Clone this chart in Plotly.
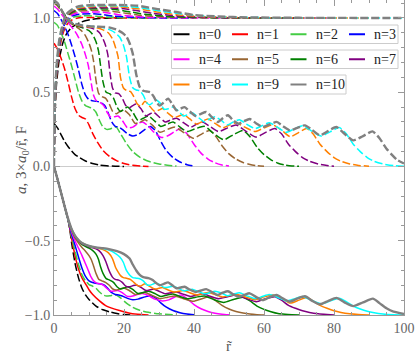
import plotly.graph_objects as go

N_LABELS = ["n=0", "n=1", "n=2", "n=3", "n=4", "n=5", "n=6", "n=7", "n=8", "n=9", "n=10"]
COLORS = ["#000000", "#FF0000", "#44CC44", "#0000FF", "#FF00FF", "#996633",
          "#008000", "#800080", "#FF8000", "#00FFFF", "#808080"]

# a(r)  (dashed, upper family)
A0 = [(0,0.29),(1,0.26),(2,0.215),(3,0.17),(4,0.135),(5,0.105),(6,0.08),(7.3,0.06),(9,0.037),(11,0.02),(13,0.01),(15,0.005),(17.5,0.002),(20,0.0)]
A1 = [(0,0.83),(1,0.79),(2,0.73),(3,0.66),(4,0.57),(5,0.47),(6,0.39),(7,0.345),(8,0.33),(9,0.32),(10,0.28),(11,0.225),(12.5,0.16),(14,0.108),(16,0.065),(18,0.038),(20,0.02),(22.5,0.008),(25,0.003),(27,0.0)]
A2 = [(0,0.97),(1,0.95),(2,0.9),(3,0.84),(4,0.76),(5,0.68),(6,0.59),(7,0.5),(8,0.44),(9,0.41),(10,0.4),(11,0.39),(12,0.365),(13,0.31),(14,0.265),(15,0.25),(16,0.252),(17,0.262),(17.8,0.265),(19,0.22),(20.7,0.155),(22.5,0.1),(24.5,0.063),(27,0.035),(30,0.017),(33,0.007),(35,0.003)]
A3 = [(0,1.05),(1,1.03),(2,0.99),(3,0.945),(4,0.89),(5,0.82),(6,0.74),(7,0.65),(8,0.55),(9,0.48),(10,0.45),(11.5,0.44),(13,0.435),(14.5,0.41),(15.5,0.36),(16.5,0.3),(17.5,0.27),(18.5,0.265),(19.5,0.25),(21,0.22),(22.5,0.205),(24,0.215),(26,0.25),(27.5,0.27),(29,0.24),(30.5,0.17),(32,0.11),(34,0.06),(36,0.03),(38,0.012),(40,0.003)]
A4 = [(0,1.08),(1,1.06),(2,1.03),(3,1.0),(4,0.97),(5,0.94),(6,0.91),(7,0.87),(8,0.82),(9,0.75),(9.8,0.68),(10.5,0.58),(11.3,0.48),(12.2,0.44),(13.2,0.43),(14.2,0.41),(15.3,0.36),(16.3,0.33),(17.3,0.335),(18.3,0.34),(19.5,0.31),(21,0.26),(22.5,0.265),(24,0.29),(25.3,0.3),(27,0.27),(29,0.22),(30.8,0.195),(32.8,0.21),(34.8,0.24),(36.4,0.255),(38,0.22),(40,0.15),(42,0.09),(44,0.05),(46,0.025),(48,0.01),(50,0.003)]
A5 = [(0,1.1),(1,1.08),(2,1.05),(3,1.015),(4,0.985),(5,0.96),(6,0.945),(7,0.93),(8,0.91),(9,0.88),(10,0.83),(10.7,0.78),(11.3,0.71),(12,0.58),(12.8,0.49),(13.7,0.47),(14.7,0.46),(15.8,0.42),(16.8,0.37),(17.8,0.355),(18.8,0.37),(20,0.38),(21.5,0.35),(23.2,0.29),(24.7,0.3),(26,0.315),(28,0.28),(30.3,0.23),(32.5,0.25),(34.5,0.265),(37,0.23),(39.8,0.19),(42.3,0.22),(44.5,0.243),(46.3,0.2),(48,0.14),(50,0.085),(52,0.05),(54,0.027),(56,0.013),(58,0.005),(60,0.001)]
A6 = [(0,1.11),(1,1.09),(2,1.055),(3,1.02),(4,0.99),(5,0.97),(6,0.95),(8,0.935),(10,0.915),(11,0.89),(12,0.84),(12.7,0.78),(13.3,0.68),(14,0.57),(14.9,0.5),(15.9,0.49),(17,0.46),(18,0.4),(19,0.37),(20,0.385),(21,0.4),(22.5,0.365),(24,0.31),(25.5,0.325),(27,0.34),(28.8,0.305),(30.5,0.27),(32.3,0.285),(34,0.3),(36,0.265),(38,0.235),(40.5,0.255),(43,0.27),(45.5,0.225),(48.5,0.18),(51.3,0.215),(54,0.243),(56,0.2),(58,0.13),(60,0.08),(62,0.045),(64,0.022),(66,0.01),(68,0.004),(70,0.001)]
A7 = [(0,1.115),(1,1.095),(2,1.06),(3,1.02),(4,0.99),(5,0.97),(6,0.955),(8,0.94),(10,0.935),(12,0.92),(13,0.9),(14,0.86),(14.8,0.81),(15.4,0.75),(16,0.63),(16.7,0.53),(17.5,0.495),(18.5,0.49),(19.5,0.46),(20.5,0.41),(21.5,0.395),(22.5,0.41),(23.5,0.42),(24.8,0.39),(26.3,0.34),(27.5,0.355),(28.5,0.365),(30,0.335),(31.8,0.3),(33.5,0.315),(35,0.325),(37,0.295),(39,0.265),(40.8,0.285),(42.5,0.3),(44.8,0.265),(47,0.235),(49.6,0.26),(52,0.28),(55,0.235),(57.8,0.198),(60.5,0.23),(63.1,0.255),(65,0.22),(67,0.15),(69,0.1),(71,0.06),(73,0.035),(75.5,0.017),(78,0.007),(80,0.002)]
A8 = [(0,1.12),(1,1.1),(2,1.06),(3,1.02),(4,0.99),(5,0.97),(6,0.955),(8,0.945),(10,0.94),(12,0.935),(14,0.92),(15.5,0.9),(16.7,0.86),(17.6,0.8),(18.3,0.74),(19,0.6),(19.8,0.53),(20.8,0.51),(21.8,0.505),(22.8,0.47),(23.8,0.42),(24.8,0.405),(26,0.44),(27.2,0.41),(28.8,0.37),(30,0.38),(31,0.39),(32.5,0.36),(34.2,0.33),(35.7,0.34),(37,0.35),(38.8,0.32),(40.8,0.285),(42.5,0.305),(44,0.32),(46,0.29),(48.2,0.26),(50.2,0.28),(52,0.295),(54.5,0.265),(57.5,0.235),(60,0.26),(62.5,0.28),(65,0.245),(67.5,0.2),(70,0.23),(72.2,0.255),(74,0.22),(76,0.15),(78,0.1),(80,0.06),(82,0.035),(84.5,0.017),(87,0.007),(90,0.002)]
A9 = [(0,1.12),(1,1.1),(2,1.06),(3,1.02),(4,0.99),(5,0.97),(6,0.96),(8,0.95),(10,0.945),(12,0.94),(14,0.935),(16,0.92),(17.5,0.9),(18.8,0.87),(19.8,0.82),(20.7,0.74),(21.6,0.6),(22.5,0.53),(23.5,0.515),(24.5,0.51),(25.5,0.48),(26.5,0.43),(27.3,0.415),(28.2,0.43),(29,0.45),(30.2,0.43),(31.5,0.385),(32.8,0.39),(34,0.4),(35.5,0.375),(37,0.34),(38.3,0.35),(39.5,0.362),(41,0.335),(43,0.3),(44.5,0.32),(46,0.335),(47.8,0.31),(49.5,0.28),(51.3,0.3),(53,0.315),(55,0.285),(57.5,0.255),(59.5,0.275),(61.5,0.295),(63.8,0.265),(66.3,0.23),(68.8,0.255),(71,0.275),(73.5,0.24),(76.3,0.205),(79,0.235),(81.5,0.262),(83.5,0.22),(85.5,0.15),(87.5,0.1),(89.5,0.06),(91.5,0.035),(94,0.017),(97,0.006),(100,0.002)]
A10 = [(0,1.12),(1,1.1),(2,1.06),(3,1.02),(4,0.99),(5,0.97),(6,0.96),(8,0.95),(10,0.945),(12,0.942),(14,0.94),(16,0.935),(18,0.92),(19.5,0.9),(20.7,0.874),(21.6,0.83),(22.5,0.76),(23.5,0.62),(24.5,0.535),(25.5,0.51),(26.5,0.505),(27.5,0.5),(28.5,0.47),(29.4,0.43),(30.2,0.41),(31.3,0.43),(32.6,0.457),(33.8,0.42),(35,0.378),(36.2,0.39),(37.3,0.4),(38.8,0.37),(40.5,0.34),(42,0.355),(43.5,0.367),(45.2,0.33),(46.8,0.3),(48.2,0.325),(49.7,0.345),(51.2,0.31),(52.7,0.288),(54.3,0.305),(55.9,0.32),(57.8,0.29),(59.7,0.266),(61.6,0.283),(63.6,0.3),(65.5,0.27),(67.4,0.243),(69.5,0.26),(71.7,0.277),(73.8,0.245),(76,0.21),(78.4,0.24),(80.7,0.266),(83,0.22),(85.5,0.176),(88.3,0.205),(91,0.236),(93,0.19),(95,0.12),(96.5,0.08),(98,0.045),(100,0.02)]

# 3*a0/r  (dashed, near 1)
P0 = [(0,0.0),(0.3,0.35),(0.7,0.55),(1.5,0.72),(2.5,0.83),(3.5,0.89),(5,0.935),(6,0.952),(7.5,0.97),(9.2,0.983),(11,0.991),(13,0.996),(16,0.999),(20,1.0)]
P1 = [(0,0.0),(0.3,0.4),(0.7,0.6),(1.5,0.78),(2.5,0.89),(3.5,0.95),(5,0.985),(6.5,0.998),(8,1.003),(10,1.004),(13,1.003),(17,1.001),(22,1.0),(27,1.0)]
P2 = [(0,0.0),(0.3,0.42),(0.7,0.62),(1.5,0.8),(2.5,0.91),(3.5,0.97),(5,1.0),(6,1.008),(8,1.014),(10,1.015),(12,1.012),(15,1.006),(20,1.002),(25,1.0),(35,1.0)]
P3 = [(0,0.0),(0.3,0.43),(0.7,0.63),(1.5,0.81),(2.5,0.92),(3.5,0.98),(5,1.012),(6.5,1.022),(8,1.027),(11,1.028),(14,1.022),(17,1.013),(21,1.006),(26,1.002),(32,1.0),(40,1.0)]
P4 = [(0,0.0),(0.3,0.44),(0.7,0.64),(1.5,0.82),(2.5,0.93),(3.5,0.99),(5,1.02),(6.5,1.033),(8,1.039),(11,1.041),(13,1.04),(16,1.032),(19,1.02),(23,1.01),(28,1.004),(35,1.001),(50,1.0)]
P5 = [(0,0.0),(0.3,0.45),(0.7,0.65),(1.5,0.83),(2.5,0.94),(3.5,1.0),(5,1.03),(6.5,1.043),(8,1.049),(11,1.052),(14,1.051),(17,1.044),(21,1.03),(25,1.017),(30,1.008),(37,1.003),(45,1.001),(60,1.0)]
P6 = [(0,0.0),(0.3,0.45),(0.7,0.65),(1.5,0.83),(2.5,0.94),(3.5,1.005),(5,1.036),(6.5,1.052),(8,1.058),(11,1.062),(15,1.061),(18,1.055),(22,1.04),(26,1.025),(31,1.013),(38,1.005),(48,1.001),(70,1.0)]
P7 = [(0,0.0),(0.3,0.46),(0.7,0.66),(1.5,0.84),(2.5,0.95),(3.5,1.01),(5,1.042),(6.5,1.058),(8,1.065),(11,1.069),(16,1.068),(20,1.062),(24,1.048),(28,1.032),(33,1.018),(40,1.008),(50,1.002),(80,1.0)]
P8 = [(0,0.0),(0.3,0.46),(0.7,0.66),(1.5,0.84),(2.5,0.95),(3.5,1.015),(5,1.047),(6.5,1.064),(8,1.071),(11,1.076),(17,1.076),(22,1.068),(26,1.054),(30,1.038),(35,1.022),(42,1.01),(52,1.003),(65,1.001),(90,1.0)]
P9 = [(0,0.0),(0.3,0.47),(0.7,0.67),(1.5,0.85),(2.5,0.96),(3.5,1.02),(5,1.052),(6.5,1.07),(8,1.077),(11,1.082),(18,1.082),(23,1.074),(27,1.06),(31,1.045),(36,1.028),(43,1.013),(52,1.005),(65,1.001),(100,1.0)]
P10 = [(0,0.0),(0.3,0.47),(0.7,0.67),(1.5,0.85),(2.5,0.96),(3.5,1.025),(5,1.056),(6.5,1.074),(8,1.082),(11,1.087),(18,1.088),(24,1.082),(28,1.066),(31.3,1.054),(35,1.04),(40,1.02),(47,1.01),(55,1.004),(70,1.001),(100,1.0)]

# F(r)  (lower family)
F0 = [(0,0.0),(1,-0.085),(2,-0.175),(3,-0.265),(4,-0.36),(4.5,-0.42),(5,-0.51),(6,-0.65),(7,-0.75),(8,-0.82),(9,-0.865),(10,-0.895),(12,-0.94),(14,-0.965),(16,-0.98),(18,-0.99),(20,-0.997),(22,-1.0)]
F1 = [(0,0.0),(1,-0.085),(2,-0.175),(3,-0.265),(4,-0.355),(5,-0.48),(6,-0.6),(7,-0.69),(8,-0.75),(9,-0.79),(10,-0.83),(11,-0.86),(13,-0.905),(15,-0.94),(18.7,-0.97),(22,-0.99),(25,-0.997),(27,-1.0)]
F2 = [(0,0.0),(1,-0.085),(2,-0.175),(3,-0.265),(4,-0.355),(5,-0.47),(6,-0.57),(7,-0.66),(8,-0.73),(9,-0.77),(10,-0.795),(11,-0.805),(12,-0.82),(13,-0.845),(14,-0.865),(15,-0.872),(16,-0.87),(17,-0.866),(17.8,-0.865),(19,-0.885),(20.7,-0.92),(22.5,-0.948),(24.5,-0.968),(27,-0.982),(30,-0.992),(33,-0.997),(35,-0.999)]
F3 = [(0,0.0),(1,-0.085),(2,-0.175),(3,-0.265),(4,-0.355),(5,-0.455),(6,-0.53),(7,-0.61),(8,-0.685),(9,-0.74),(10,-0.77),(11.5,-0.785),(13,-0.79),(14.5,-0.8),(15.5,-0.825),(16.5,-0.85),(17.5,-0.862),(18.5,-0.865),(19.5,-0.872),(21,-0.888),(22.5,-0.898),(24,-0.893),(26,-0.878),(27.5,-0.87),(29,-0.885),(30.5,-0.918),(32,-0.946),(34,-0.97),(36,-0.985),(38,-0.994),(40,-0.999)]
F4 = [(0,0.0),(1,-0.085),(2,-0.175),(3,-0.265),(4,-0.355),(5,-0.44),(6,-0.5),(7,-0.55),(8,-0.6),(9,-0.655),(9.8,-0.7),(10.5,-0.74),(11.3,-0.77),(12.2,-0.785),(13.2,-0.79),(14.2,-0.8),(15.3,-0.825),(16.3,-0.84),(17.3,-0.838),(18.3,-0.835),(19.5,-0.85),(21,-0.875),(22.5,-0.872),(24,-0.86),(25.3,-0.855),(27,-0.87),(29,-0.895),(31,-0.905),(32.8,-0.898),(34.8,-0.875),(36.4,-0.865),(38,-0.89),(40,-0.93),(42,-0.958),(44,-0.976),(46,-0.988),(48,-0.995),(50,-0.999)]
F5 = [(0,0.0),(1,-0.085),(2,-0.175),(3,-0.265),(4,-0.355),(5,-0.43),(6,-0.48),(7,-0.515),(8,-0.545),(9,-0.57),(10,-0.6),(10.7,-0.63),(11.3,-0.67),(12,-0.72),(12.8,-0.76),(13.7,-0.77),(14.7,-0.78),(15.8,-0.8),(16.8,-0.825),(17.8,-0.832),(18.8,-0.825),(20,-0.818),(21.5,-0.835),(23.2,-0.862),(24.7,-0.855),(26,-0.848),(28,-0.868),(30.3,-0.89),(32.5,-0.88),(34.5,-0.872),(37,-0.89),(39.8,-0.908),(42.3,-0.89),(44.5,-0.878),(46.3,-0.905),(48,-0.935),(50,-0.96),(52,-0.976),(54,-0.987),(56,-0.994),(58,-0.998),(60,-1.0)]
F6 = [(0,0.0),(1,-0.085),(2,-0.175),(3,-0.265),(4,-0.355),(5,-0.425),(6,-0.47),(7,-0.5),(8,-0.525),(10,-0.55),(11,-0.565),(12,-0.59),(12.7,-0.625),(13.3,-0.675),(14,-0.72),(14.9,-0.755),(15.9,-0.765),(17,-0.78),(18,-0.81),(19,-0.825),(20,-0.818),(21,-0.81),(22.5,-0.828),(24,-0.855),(25.5,-0.848),(27,-0.84),(28.8,-0.855),(30.5,-0.875),(32.3,-0.865),(34,-0.858),(36,-0.875),(38,-0.89),(40.5,-0.88),(43,-0.872),(45.5,-0.895),(48.5,-0.915),(51.3,-0.895),(54,-0.88),(56,-0.905),(58,-0.94),(60,-0.962),(62,-0.978),(64,-0.99),(66,-0.995),(68,-0.998),(70,-1.0)]
F7 = [(0,0.0),(1,-0.085),(2,-0.175),(3,-0.265),(4,-0.355),(5,-0.42),(6,-0.47),(7,-0.5),(8,-0.52),(10,-0.54),(12,-0.555),(13,-0.57),(14,-0.6),(14.8,-0.64),(15.4,-0.68),(16,-0.715),(16.7,-0.745),(17.5,-0.76),(18.5,-0.765),(19.5,-0.78),(20.5,-0.805),(21.5,-0.81),(22.5,-0.803),(23.5,-0.798),(24.8,-0.813),(26.3,-0.835),(27.5,-0.83),(28.5,-0.825),(30,-0.84),(31.8,-0.857),(33.5,-0.85),(35,-0.845),(37,-0.86),(39,-0.875),(40.8,-0.865),(42.5,-0.857),(44.8,-0.875),(47,-0.89),(49.6,-0.877),(52,-0.866),(55,-0.89),(57.8,-0.91),(60.5,-0.89),(63.1,-0.877),(65,-0.9),(67,-0.935),(69,-0.955),(71,-0.972),(73,-0.983),(75.5,-0.992),(78,-0.997),(80,-1.0)]
F8 = [(0,0.0),(1,-0.085),(2,-0.175),(3,-0.265),(4,-0.355),(5,-0.42),(6,-0.465),(7,-0.495),(8,-0.515),(10,-0.535),(12,-0.548),(14,-0.56),(15.5,-0.58),(16.7,-0.62),(17.6,-0.68),(18.3,-0.71),(19,-0.735),(19.8,-0.748),(20.8,-0.753),(21.8,-0.76),(22.8,-0.78),(23.8,-0.8),(24.8,-0.805),(26,-0.79),(27.2,-0.805),(28.8,-0.825),(30,-0.82),(31,-0.815),(32.5,-0.83),(34.2,-0.845),(35.7,-0.84),(37,-0.835),(38.8,-0.85),(40.8,-0.865),(42.5,-0.856),(44,-0.848),(46,-0.862),(48.2,-0.878),(50.2,-0.868),(52,-0.86),(54.5,-0.877),(57.5,-0.897),(60,-0.878),(62.5,-0.865),(65,-0.888),(67.5,-0.92),(70,-0.9),(72.2,-0.883),(74,-0.905),(76,-0.935),(78,-0.955),(80,-0.972),(82,-0.983),(84.5,-0.992),(87,-0.997),(90,-1.0)]
F9 = [(0,0.0),(1,-0.085),(2,-0.175),(3,-0.265),(4,-0.355),(5,-0.42),(6,-0.465),(7,-0.495),(8,-0.515),(10,-0.535),(12,-0.545),(14,-0.553),(15.9,-0.565),(17.5,-0.585),(18.8,-0.61),(19.8,-0.645),(20.7,-0.7),(21.6,-0.73),(22.5,-0.748),(23.5,-0.752),(24.5,-0.756),(25.5,-0.77),(26.5,-0.795),(27.3,-0.8),(28.2,-0.793),(29,-0.785),(30.2,-0.795),(31.5,-0.815),(32.8,-0.812),(34,-0.807),(35.5,-0.82),(37,-0.837),(38.3,-0.832),(39.5,-0.827),(41,-0.84),(43,-0.857),(44.5,-0.85),(46,-0.84),(47.8,-0.852),(49.5,-0.87),(51.3,-0.86),(53,-0.85),(55,-0.87),(57.5,-0.89),(59.5,-0.876),(61.5,-0.862),(63.8,-0.88),(66.3,-0.905),(68.8,-0.89),(71,-0.875),(73.5,-0.9),(76.3,-0.925),(79,-0.905),(81.5,-0.887),(83.5,-0.91),(85.5,-0.94),(87.5,-0.96),(89.5,-0.975),(91.5,-0.985),(94,-0.993),(97,-0.998),(100,-1.0)]
F10 = [(0,0.0),(1,-0.085),(2,-0.175),(3,-0.265),(4,-0.35),(5,-0.42),(6,-0.465),(7,-0.495),(8,-0.515),(10,-0.535),(12,-0.545),(14,-0.55),(16,-0.558),(18,-0.57),(20,-0.59),(21.6,-0.62),(22.5,-0.66),(23.5,-0.7),(24.5,-0.73),(25.5,-0.745),(27,-0.752),(28.2,-0.765),(29.2,-0.785),(30.2,-0.8),(31.4,-0.79),(32.6,-0.78),(33.8,-0.8),(35,-0.82),(36.2,-0.815),(37.3,-0.81),(38.9,-0.83),(40.5,-0.845),(42,-0.835),(43.5,-0.826),(45.1,-0.845),(46.7,-0.865),(48.2,-0.85),(49.7,-0.84),(51.2,-0.86),(52.8,-0.877),(54.3,-0.865),(55.9,-0.854),(57.8,-0.88),(59.7,-0.9),(61.6,-0.88),(63.6,-0.865),(65.5,-0.89),(67.4,-0.91),(69.5,-0.89),(71.7,-0.874),(73.8,-0.905),(76,-0.928),(78.4,-0.905),(80.7,-0.885),(83,-0.915),(85.5,-0.94),(88.3,-0.915),(91.1,-0.89),(93,-0.92),(95,-0.955),(97,-0.978),(100,-0.993)]

A_CURVES = [A0, A1, A2, A3, A4, A5, A6, A7, A8, A9, A10]
P_CURVES = [P0, P1, P2, P3, P4, P5, P6, P7, P8, P9, P10]
F_CURVES = [F0, F1, F2, F3, F4, F5, F6, F7, F8, F9, F10]
F_DASHED = [True, False, True, False, False, False, False, False, False, False, False]

X_TICKS = [0, 20, 40, 60, 80, 100]
Y_TICKS = [-1.0, -0.5, 0.0, 0.5, 1.0]
Y_TICK_TEXT = ["\u22121.0", "\u22120.5", "0.0", "0.5", "1.0"]

DASH = "8px,3px"
SERIF = "Liberation Serif, Times New Roman, serif"

fig = go.Figure()

def add(curve, color, width, dash, name):
    fig.add_trace(go.Scatter(
        x=[p[0] for p in curve], y=[p[1] for p in curve], mode="lines",
        line=dict(color=color, width=width, dash=dash, shape="spline", smoothing=0.6),
        name=name, showlegend=False, hoverinfo="skip"))

for i in range(11):
    w = 2.4 if i == 10 else 1.5
    add(F_CURVES[i], COLORS[i], w, DASH if F_DASHED[i] else "solid", N_LABELS[i])
    add(A_CURVES[i], COLORS[i], w, DASH, N_LABELS[i])
    add(P_CURVES[i], COLORS[i], w, DASH, N_LABELS[i])

# plot-area geometry (pixels) for the hand-placed legend and titles
L, R, T, B = 54, 404, 0, 315
def px(x): return (x - L) / (R - L)
def py(y): return (B - y) / (B - T)

shapes = []
annotations = []
rows = [(0, 4, 25, 43.5, 398), (4, 8, 50, 68.5, 398), (8, 11, 75, 94, 346)]
slot_x = [173.5, 232.0, 290.5, 349.0]
for (i0, i1, y0, y1, xr) in rows:
    shapes.append(dict(type="rect", xref="paper", yref="paper",
                       x0=px(171.5), x1=px(xr), y0=py(y1), y1=py(y0),
                       line=dict(color="#CCCCCC", width=1), fillcolor="white", layer="above"))
    yc = py((y0 + y1) / 2)
    for k, i in enumerate(range(i0, i1)):
        shapes.append(dict(type="line", xref="paper", yref="paper",
                           x0=px(slot_x[k]), x1=px(slot_x[k] + 16), y0=yc, y1=yc,
                           line=dict(color=COLORS[i], width=2), layer="above"))
        annotations.append(dict(xref="paper", yref="paper", x=px(slot_x[k] + 23), y=yc,
                                text=N_LABELS[i], showarrow=False, xanchor="left", yanchor="middle",
                                font=dict(family=SERIF, size=14, color="#222222")))

# axis titles
annotations.append(dict(xref="paper", yref="paper", x=px(229), y=py(346),
                        text="r\u0303", showarrow=False, xanchor="center", yanchor="middle",
                        font=dict(family=SERIF, size=15, color="#555555")))
annotations.append(dict(xref="paper", yref="paper", x=px(22), y=py(160),
                        text="<i>a</i>, 3\u00d7<i>a</i><sub>0</sub>/r\u0303, F", textangle=-90,
                        showarrow=False, xanchor="center", yanchor="middle",
                        font=dict(family=SERIF, size=15, color="#555555")))

axis_common = dict(showline=True, linecolor="#999999", linewidth=1, mirror="allticks",
                   ticks="inside", ticklen=6, tickcolor="#999999", showgrid=False,
                   automargin=False,
                   tickfont=dict(family=SERIF, size=14, color="#666666"))

fig.update_layout(
    width=415, height=360,
    margin=dict(l=L, r=415 - R, t=T, b=360 - B),
    paper_bgcolor="white", plot_bgcolor="white",
    shapes=shapes, annotations=annotations,
    xaxis=dict(range=[0, 100], tickvals=X_TICKS, ticktext=[str(v) for v in X_TICKS],
               zeroline=False,
               minor=dict(dtick=5, ticks="inside", ticklen=3, tickcolor="#999999", showgrid=False),
               **axis_common),
    yaxis=dict(range=[-1.0, 1.121], tickvals=Y_TICKS, ticktext=Y_TICK_TEXT,
               zeroline=True, zerolinecolor="#CCCCCC", zerolinewidth=1,
               minor=dict(dtick=0.1, ticks="inside", ticklen=3, tickcolor="#999999", showgrid=False),
               **axis_common),
)

# the page's default 8px body margin would shift the figure; remove it
fig.write_html("out.html", config={"displayModeBar": False},
               post_script="document.body.style.margin='0';document.body.style.overflow='hidden';")
